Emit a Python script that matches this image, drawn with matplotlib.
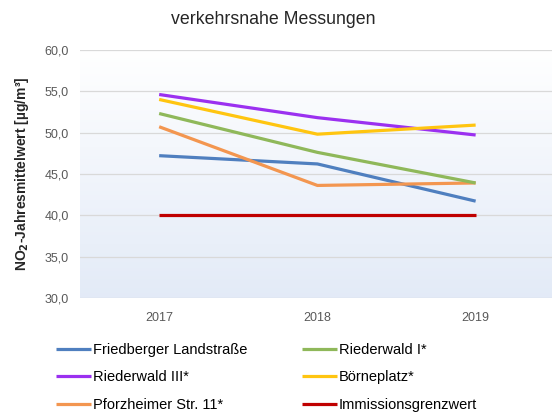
import numpy as np
import matplotlib.pyplot as plt

plt.rcParams['font.family'] = ['Liberation Sans', 'DejaVu Sans']

years = ["2017", "2018", "2019"]
friedberger = [47.2, 46.2, 41.7]
riederwald_1 = [52.3, 47.6, 43.9]
riederwald_3 = [54.6, 51.8, 49.7]
boerneplatz = [54.0, 49.8, 50.9]
pforzheimer = [50.7, 43.6, 43.9]
grenzwert = [40.0, 40.0, 40.0]

series = [
    ("Friedberger Landstraße", friedberger, "#4f7fbf"),
    ("Riederwald III*", riederwald_3, "#9b30f0"),
    ("Pforzheimer Str. 11*", pforzheimer, "#f39650"),
    ("Riederwald I*", riederwald_1, "#8fb85a"),
    ("Börneplatz*", boerneplatz, "#ffc510"),
    ("Immissionsgrenzwert", grenzwert, "#c00000"),
]

fig = plt.figure(figsize=(5.52, 4.12), dpi=100)
ax = fig.add_axes([0.145, 0.277, 0.86, 0.602])

# background gradient: white at top, pale blue at bottom
grad = np.linspace(0, 1, 256).reshape(-1, 1)
top = np.array([1.0, 1.0, 1.0])
bot = np.array([0.89, 0.92, 0.97])
img = top + (bot - top) * grad[..., None]
ax.imshow(img, extent=[-0.5, 2.5, 30, 60], aspect='auto', zorder=0)

x = np.arange(len(years))
handles = []
for name, vals, col in series:
    h, = ax.plot(x, vals, color=col, lw=2.3, label=name, zorder=3,
                 solid_capstyle='butt')
    handles.append(h)

ax.set_xlim(-0.5, 2.5)
ax.set_ylim(30, 60)
yt = np.arange(30, 61, 5)
ax.set_yticks(yt)
ax.set_yticklabels([f"{v:.1f}".replace(".", ",") for v in yt])
ax.set_xticks(x)
ax.set_xticklabels(years)
ax.grid(axis='y', color='#d9d9d9', lw=0.9, zorder=1)
for s in ax.spines.values():
    s.set_visible(False)
ax.tick_params(length=0, labelsize=9, colors='#595959', pad=8)
ax.tick_params(axis='x', pad=10)

ax.set_ylabel(r'NO$_\mathbf{2}$-Jahresmittelwert [µg/m³]', fontsize=10,
              fontweight='bold', color='#262626', labelpad=10)
fig.text(0.495, 0.952, "verkehrsnahe Messungen", fontsize=12.8,
         color='#262626', ha='center', va='center')

fig.legend(handles=handles, ncol=2, loc='upper left',
           bbox_to_anchor=(0.091, 0.182), frameon=False, fontsize=10.5,
           handlelength=2.4, handletextpad=0.1, columnspacing=3.8,
           labelspacing=0.92, borderaxespad=0)

fig.savefig("out.png", dpi=100)
